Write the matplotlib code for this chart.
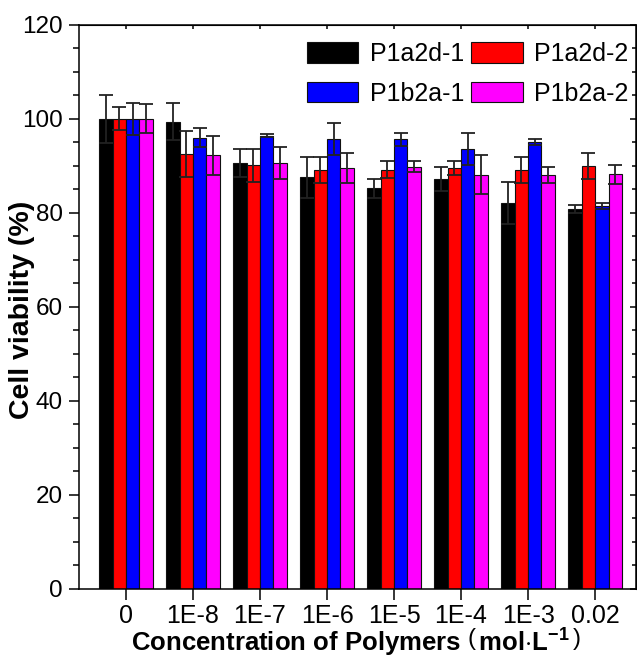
import matplotlib
matplotlib.use("Agg")
import matplotlib.pyplot as plt
import numpy as np
from matplotlib.ticker import MultipleLocator

plt.rcParams['font.family'] = ['Liberation Sans', 'DejaVu Sans']
plt.rcParams['mathtext.fontset'] = 'custom'
plt.rcParams['mathtext.rm'] = 'Liberation Sans'
plt.rcParams['mathtext.bf'] = 'Liberation Sans:bold'
plt.rcParams['mathtext.it'] = 'Liberation Sans:italic'

categories = ["0", "1E-8", "1E-7", "1E-6", "1E-5", "1E-4", "1E-3", "0.02"]
series_names = ["P1a2d-1", "P1a2d-2", "P1b2a-1", "P1b2a-2"]
colors = ["#000000", "#FF0000", "#0000FF", "#FF00FF"]

p1a2d_1 = [100.0, 99.4, 90.6, 87.5, 85.2, 87.2, 82.1, 80.8]
p1a2d_2 = [100.0, 92.5, 90.1, 89.1, 89.1, 89.5, 89.1, 89.9]
p1b2a_1 = [100.0, 96.0, 96.4, 95.6, 95.6, 93.6, 95.0, 81.4]
p1b2a_2 = [100.0, 92.2, 90.5, 89.5, 89.8, 88.1, 88.1, 88.2]

err_p1a2d_1 = [5.1, 4.0, 3.0, 4.3, 2.0, 2.6, 4.4, 0.9]
err_p1a2d_2 = [2.4, 4.8, 3.5, 2.7, 1.8, 1.4, 2.7, 2.7]
err_p1b2a_1 = [3.4, 2.0, 0.3, 3.4, 1.4, 3.4, 0.7, 0.7]
err_p1b2a_2 = [3.1, 4.1, 3.4, 3.1, 1.1, 4.1, 1.7, 2.0]

values = [p1a2d_1, p1a2d_2, p1b2a_1, p1b2a_2]
errors = [err_p1a2d_1, err_p1a2d_2, err_p1b2a_1, err_p1b2a_2]

W, H = 637, 661
fig = plt.figure(figsize=(W / 100, H / 100), dpi=100)
ax_l, ax_r, ax_t, ax_b = 79, 636, 24.7, 588.7
ax = fig.add_axes([ax_l / W, 1 - ax_b / H, (ax_r - ax_l) / W, (ax_b - ax_t) / H])

x = np.arange(len(categories))
width = 0.2
handles = []
for i, (vals, errs, col, name) in enumerate(zip(values, errors, colors, series_names)):
    pos = x + (i - 1.5) * width
    b = ax.bar(pos, vals, width, color=col, edgecolor='#111111', linewidth=0.8,
               label=name, zorder=2)
    ax.errorbar(pos, vals, yerr=errs, fmt='none', ecolor='#222222',
                elinewidth=1.3, capsize=5, capthick=1.3, zorder=3)
    handles.append(b)

ax.set_xlim(-0.70, 7.61)
ax.set_ylim(0, 120)
ax.set_xticks(x)
ax.set_xticklabels(categories)
ax.yaxis.set_major_locator(MultipleLocator(20))
ax.yaxis.set_minor_locator(MultipleLocator(5))

for sp in ax.spines.values():
    sp.set_linewidth(1.1)

ax.tick_params(axis='x', which='major', labelsize=18, width=1.1,
               direction='out', length=8, pad=3)
ax.tick_params(axis='x', which='minor', bottom=False, top=False)
ax.tick_params(axis='y', which='major', labelsize=17.5, width=1.1,
               direction='out', length=7.5, pad=4)
ax.tick_params(axis='y', which='minor', direction='out', length=4, width=1.1)
# mirrored ticks on top and right, pointing inward
ax2 = ax.secondary_xaxis('top')
ax2.set_xticks(x)
ax2.tick_params(direction='in', length=3, width=1.1, labeltop=False)
ax3 = ax.secondary_yaxis('right')
ax3.yaxis.set_major_locator(MultipleLocator(20))
ax3.yaxis.set_minor_locator(MultipleLocator(5))
ax3.tick_params(which='major', direction='in', length=4, width=1.1, labelright=False)
ax3.tick_params(which='minor', direction='in', length=3, width=1.1)

fig.text(22 / W, 1 - 310 / H, 'Cell viability (%)', rotation=90,
         ha='center', va='center', fontsize=20.5, fontweight='bold')
fig.text(356 / W, 1 - 643 / H,
         r'Concentration of Polymers $\left(\,\mathbf{mol{\cdot}L^{-1}}\,\right)$',
         ha='center', va='center', fontsize=18.5, fontweight='bold')

order = [0, 2, 1, 3]
ax.legend([handles[k] for k in order], [series_names[k] for k in order],
          ncol=2, loc='upper left', bbox_to_anchor=((307 - ax_l) / (ax_r - ax_l), 1 - (42 - ax_t) / (ax_b - ax_t)),
          frameon=False, fontsize=18, handlelength=2.05, handleheight=0.88,
          handletextpad=0.45, columnspacing=0.3, labelspacing=0.62,
          borderaxespad=0, borderpad=0)

fig.savefig('out.png', dpi=100)
